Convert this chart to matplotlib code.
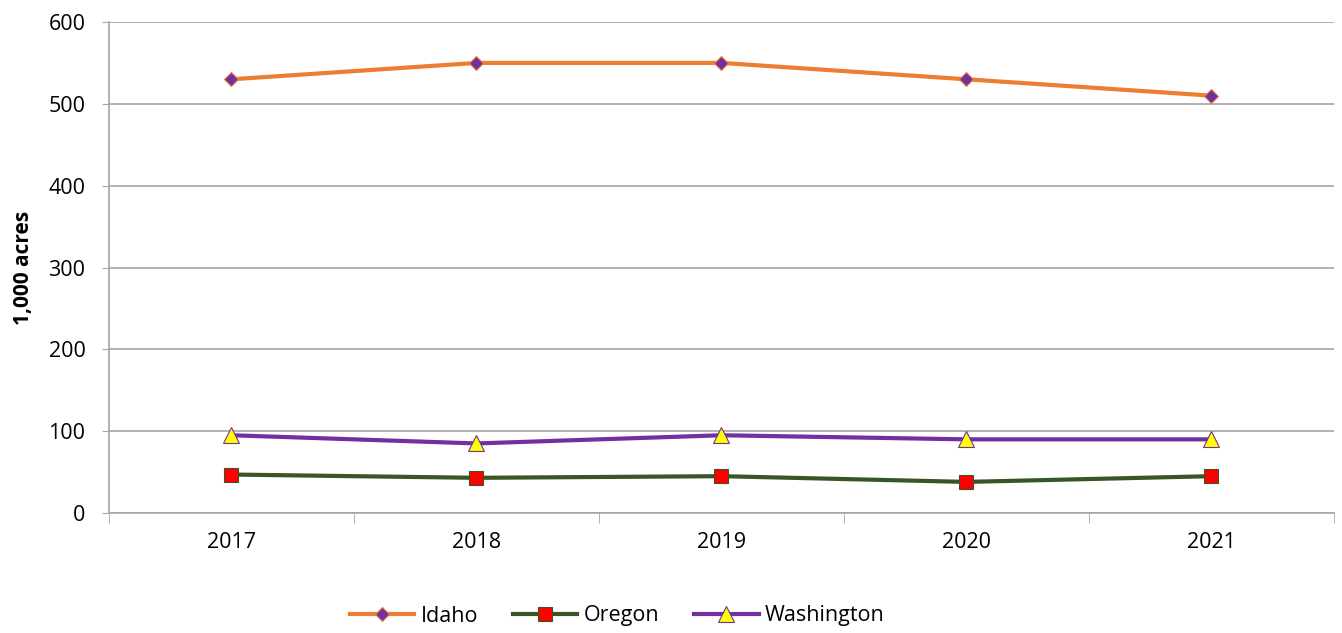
import matplotlib
matplotlib.use("Agg")
import matplotlib.pyplot as plt
import numpy as np

years = ["2017", "2018", "2019", "2020", "2021"]
idaho = [530, 550, 550, 530, 510]
oregon = [47, 43, 45, 38, 45]
washington = [95, 85, 95, 90, 90]

plt.rcParams['font.family'] = ['Open Sans', 'DejaVu Sans']

fig = plt.figure(figsize=(13.42, 6.33), dpi=100)
ax = fig.add_axes([109 / 1342, 1 - 513 / 633, (1334 - 109) / 1342, (513 - 22) / 633])

x = np.arange(len(years))
ax.plot(x, idaho, color='#ED7D31', lw=3, marker='D', ms=7,
        mfc='#7030A0', mec='#ED7D31', mew=0.8, label='Idaho', zorder=3)
ax.plot(x, oregon, color='#375623', lw=3, marker='s', ms=10,
        mfc='#FF0000', mec='#375623', mew=0.8, label='Oregon', zorder=3)
ax.plot(x, washington, color='#7030A0', lw=3, marker='^', ms=11,
        mfc='#FFFF00', mec='#7030A0', mew=0.8, label='Washington', zorder=3)

ax.set_xlim(-0.5, len(years) - 0.5)
ax.set_ylim(0, 600)
ax.set_yticks(range(0, 601, 100))
ax.set_xticks(x)
ax.set_xticklabels(years)
ax.set_xticks(np.arange(-0.5, len(years)), minor=True)
ax.tick_params(axis='x', which='major', length=0, pad=14, labelsize=15.5)
ax.tick_params(axis='x', which='minor', length=7, color='#A6A6A6', direction='out')
ax.tick_params(axis='y', length=5, color='#A6A6A6', labelsize=15.5, pad=12)

ax.grid(axis='y', color='#A6A6A6', lw=1.2)
ax.set_axisbelow(True)
for s in ['top', 'right']:
    ax.spines[s].set_visible(False)
for s in ['left', 'bottom']:
    ax.spines[s].set_color('#A6A6A6')
    ax.spines[s].set_linewidth(1.2)

ax.set_ylabel('1,000 acres', fontsize=15, fontweight='bold', labelpad=10)

fig.legend(loc='center', bbox_to_anchor=(0.46, 1 - 616 / 633), ncol=3,
           frameon=False, fontsize=15.5, handlelength=3, columnspacing=1.6,
           handletextpad=0.3)

fig.savefig('out.png', dpi=100)
